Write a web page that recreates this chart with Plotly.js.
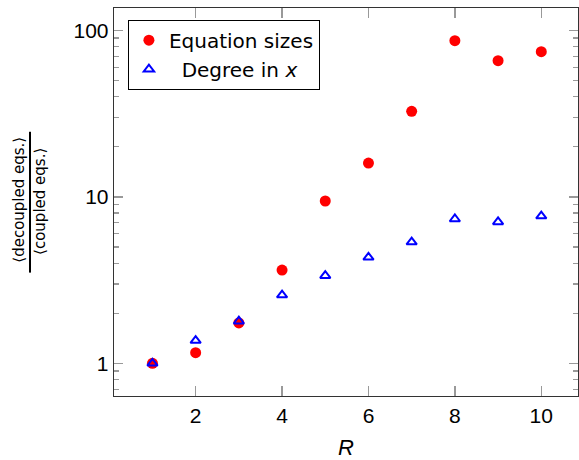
<!DOCTYPE html>
<html>
<head>
<meta charset="utf-8">
<script src="https://cdn.plot.ly/plotly-3.0.1.min.js"></script>
<style>html,body{margin:0;padding:0;background:#fff;}#chart{width:579px;height:460px;}</style>
</head>
<body>
<div id="chart"></div>
<script>
const R = [1, 2, 3, 4, 5, 6, 7, 8, 9, 10];
const equationSizes = [1.0, 1.16, 1.75, 3.63, 9.44, 15.96, 32.6, 86.6, 65.7, 74.4];
const degreeInX = [1.0, 1.37, 1.79, 2.57, 3.36, 4.33, 5.35, 7.36, 7.07, 7.67];
const xTicks = [2, 4, 6, 8, 10];
const yTicks = [1, 10, 100];
const yTickText = ['1', '10', '100'];
const yMinorTicks = [0.7, 0.8, 0.9, 2, 3, 4, 5, 6, 7, 8, 9, 20, 30, 40, 50, 60, 70, 80, 90];

const FONT = 'Liberation Sans, Arial, sans-serif';
const FONT2 = 'DejaVu Sans, sans-serif';

const traces = [
  {
    x: R, y: equationSizes, name: 'Equation sizes', type: 'scatter', mode: 'markers',
    marker: {symbol: 'circle', color: '#ff0000', size: 11}
  },
  {
    x: R, y: degreeInX, name: '\u00a0 Degree in <i>x</i>', type: 'scatter', mode: 'markers',
    marker: {symbol: 'triangle-up-open', color: '#0000ff', size: 9, line: {width: 2, color: '#0000ff'}}
  }
];

const layout = {
  width: 579, height: 460,
  margin: {l: 114, r: 1, t: 8, b: 64},
  paper_bgcolor: '#fff', plot_bgcolor: '#fff',
  font: {family: FONT, size: 21, color: '#000'},
  showlegend: true,
  legend: {
    x: 0.03, y: 0.97, xanchor: 'left', yanchor: 'top',
    bgcolor: '#fff', bordercolor: '#000', borderwidth: 1,
    font: {family: FONT2, size: 20, color: '#000'},
    itemwidth: 30, tracegroupgap: 0
  },
  xaxis: {
    range: [0.11, 10.85], tickvals: xTicks, ticks: 'inside', ticklen: 10, tickwidth: 1.5,
    tickcolor: '#999', showline: true, linecolor: '#333', linewidth: 1.3, mirror: 'allticks',
    showgrid: false, zeroline: false, tickfont: {size: 21},
    title: {text: '<i>R</i>', font: {size: 22}, standoff: 14}
  },
  yaxis: {
    type: 'log', range: [-0.196, 2.134], tickvals: yTicks, ticktext: yTickText,
    ticks: 'inside', ticklen: 9, tickwidth: 1.5, tickcolor: '#999',
    showline: true, linecolor: '#333', linewidth: 1.3, mirror: 'allticks',
    showgrid: false, zeroline: false, tickfont: {size: 21},
    minor: {tickvals: yMinorTicks, ticks: 'inside', ticklen: 5, tickwidth: 1.2, tickcolor: '#999', showgrid: false}
  },
  annotations: [
    {xref: 'paper', yref: 'paper', x: -0.2055, y: 0.505, xanchor: 'center', yanchor: 'middle',
     text: '\u27e8decoupled eqs.\u27e9', textangle: -90, showarrow: false, font: {family: FONT2, size: 15}},
    {xref: 'paper', yref: 'paper', x: -0.158, y: 0.502, xanchor: 'center', yanchor: 'middle',
     text: '\u27e8coupled eqs.\u27e9', textangle: -90, showarrow: false, font: {family: FONT2, size: 15}}
  ],
  shapes: [
    {type: 'line', xref: 'paper', yref: 'paper', x0: -0.181, x1: -0.181, y0: 0.318, y1: 0.681,
     line: {color: '#000', width: 2}}
  ]
};

Plotly.newPlot('chart', traces, layout, {displayModeBar: false, staticPlot: true});
</script>
</body>
</html>
